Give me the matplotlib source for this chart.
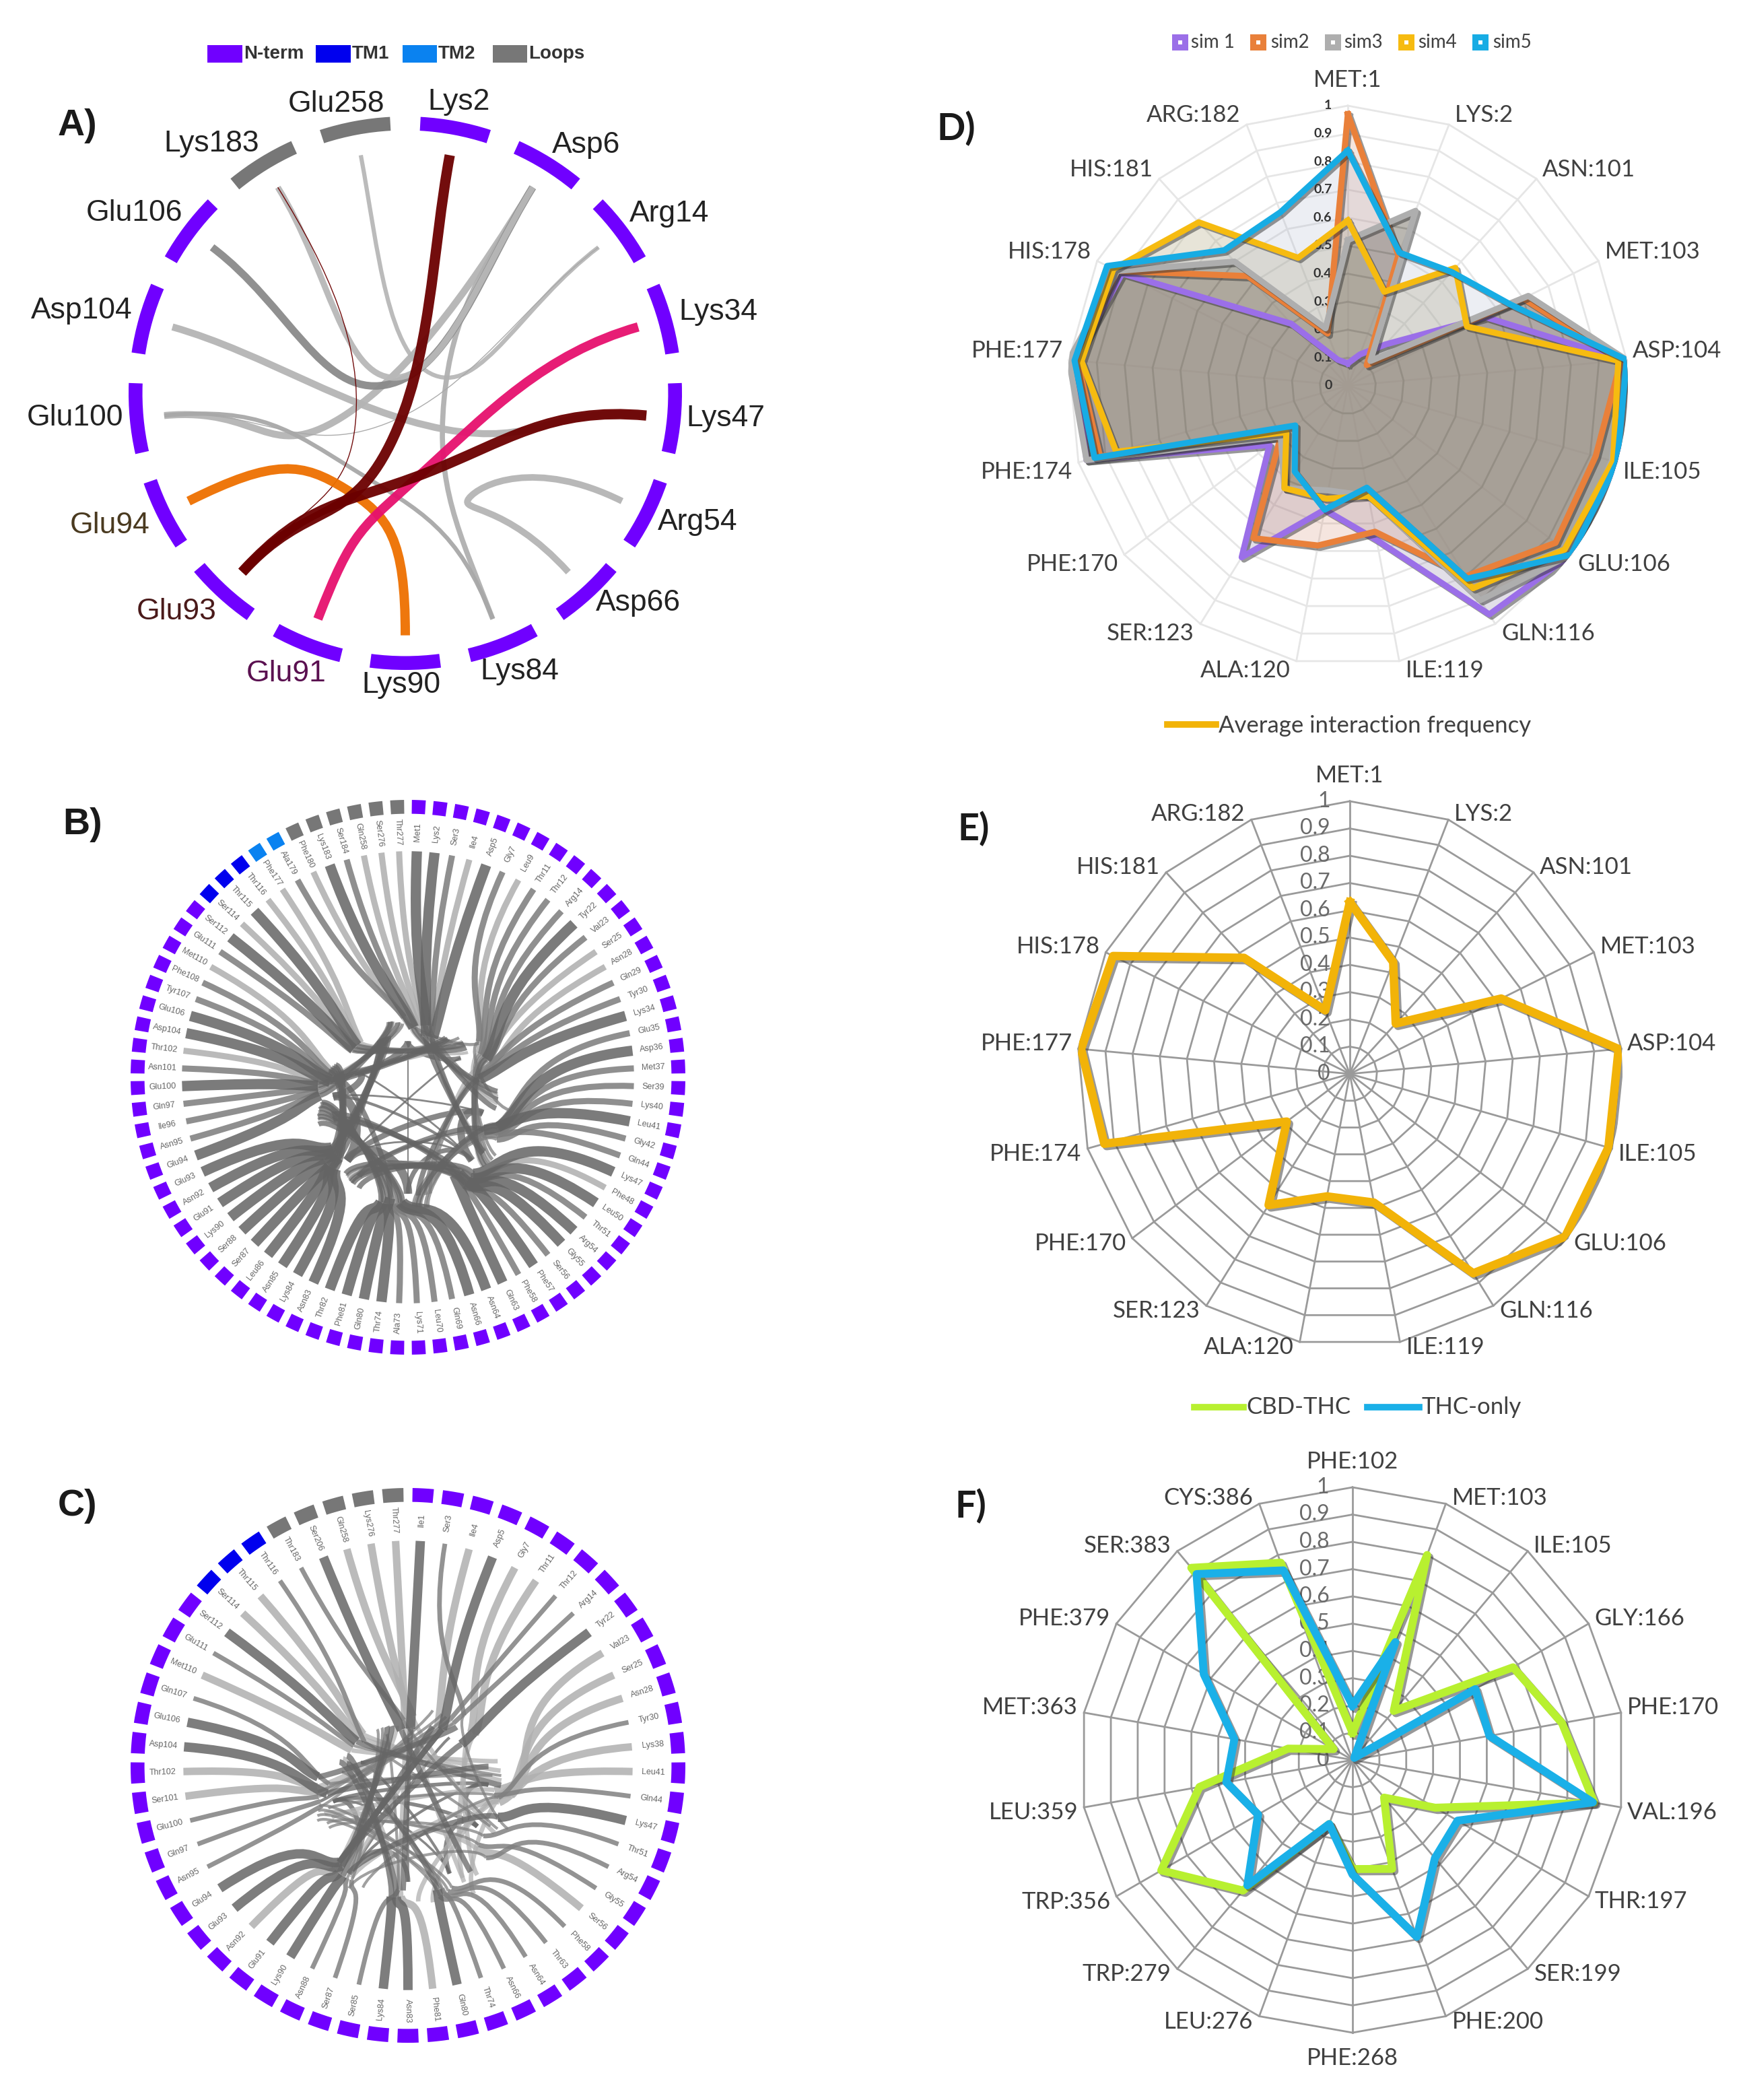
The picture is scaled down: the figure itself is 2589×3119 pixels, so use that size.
import matplotlib
matplotlib.use("Agg")
import matplotlib.pyplot as plt
import matplotlib.patheffects as pe
from matplotlib.patches import PathPatch, Rectangle, Wedge
from matplotlib.path import Path
import numpy as np

W, H = 2589, 3119
PURPLE, BLUE, SKY, LOOP = "#7000ff", "#0000ee", "#0a82f0", "#777777"

# panel A
a_names = ["Lys2", "Asp6", "Arg14", "Lys34", "Lys47", "Arg54", "Asp66", "Lys84", "Lys90",
           "Glu91", "Glu93", "Glu94", "Glu100", "Asp104", "Glu106", "Lys183", "Glu258"]
a_tiles = [PURPLE] * 15 + [LOOP] * 2
a_text = {"Glu94": "#4a3a20", "Glu93": "#4a1a1a", "Glu91": "#5a1050"}
a_label_x = [682, 871, 994, 1067, 1078, 1036, 948, 772, 596, 425, 262, 163, 111, 121, 199, 314, 499]
a_label_y = [151, 216, 318, 464, 622, 776, 896, 998, 1018, 1000, 909, 781, 620, 462, 317, 214, 155]
a_from = [16, 1, 1, 14, 13, 15, 12, 12, 5, 15, 11, 3, 0, 4]
a_to = [2, 12, 7, 1, 4, 1, 7, 2, 6, 10, 8, 9, 10, 10]
a_via_x = [.105, -.233, .14, -.07, .14, -.04, -.18, -.07, .23, -.18, -.215, .07, -.055, .07]
a_via_y = [.065, -.089, -.024, .03, -.13, .056, -.28, -.11, -.38, -.105, -.347, -.28, -.185, -.29]
a_lw = [4.5, 7.5, 5.5, 8, 7.5, 6.5, 4.5, 1, 7, 1, 10, 10, 11, 11]
a_col = ["#b8b8b8", "#b4b4b4", "#b0b0b0", "#8a8a8a", "#b4b4b4", "#b8b8b8", "#a8a8a8", "#a8a8a8",
         "#b4b4b4", "#6b0000", "#ee7000", "#e6106e", "#6b0000", "#6b0000"]

# panel B
b_names = ["Met1", "Lys2", "Ser3", "Ile4", "Asp5", "Gly7", "Leu9", "Thr11", "Thr12", "Arg14",
           "Tyr22", "Val23", "Ser25", "Asn28", "Gln29", "Tyr30", "Lys34", "Glu35", "Asp36", "Met37",
           "Ser39", "Lys40", "Leu41", "Gly42", "Gln44", "Lys47", "Phe48", "Leu50", "Thr51", "Arg54",
           "Gly55", "Ser56", "Phe57", "Phe58", "Gln63", "Asn64", "Asn66", "Gln69", "Leu70", "Lys71",
           "Ala73", "Thr74", "Gln80", "Phe81", "Thr82", "Asn83", "Lys84", "Asn85", "Leu86", "Ser87",
           "Ser88", "Lys90", "Glu91", "Asn92", "Glu93", "Glu94", "Asn95", "Ile96", "Gln97", "Glu100",
           "Asn101", "Thr102", "Asp104", "Glu106", "Tyr107", "Phe108", "Met110", "Glu111", "Ser112",
           "Ser114", "Thr115", "Thr116", "Phe177", "Ala179", "Phe180", "Lys183", "Ser184", "Gln258",
           "Ser276", "Thr277"]
b_tiles = [PURPLE] * 69 + [BLUE] * 3 + [SKY] * 2 + [LOOP] * 6
b_partner = [24, 27, 20, 26, 28, 23, 30, 27, 32, 29, 33, 31, 36, 34, 37, 35, 40, 38, 42, 39,
             44, 41, 47, 43, 48, 46, 52, 49, 51, 50, 54, 53, 56, 55, 58, 57, 60, 59, 62, 61,
             64, 63, 67, 65, 66, 69, 68, 71, 70, 73, 72, 75, 74, 77, 76, 79, 78, 0, 79, 2,
             4, 3, 6, 5, 8, 7, 10, 9, 12, 11, 14, 13, 16, 15, 18, 17, 20, 19, 22, 21]
b_weight = [3, 3, 2, 1, 3, 2, 1, 2, 2, 2, 3, 2, 1, 1, 2, 2, 3, 2, 3, 2,
            2, 2, 3, 2, 2, 3, 1, 3, 2, 3, 3, 2, 3, 2, 3, 3, 3, 2, 2, 2,
            2, 3, 3, 3, 3, 3, 3, 3, 3, 3, 3, 3, 3, 3, 3, 3, 2, 2, 2, 3,
            2, 1, 3, 3, 2, 2, 1, 2, 3, 1, 3, 1, 1, 2, 1, 3, 2, 1, 1, 1]
b_hub_x = [0, .19, .27, .23, 0, -.22, -.27, -.19]
b_hub_y = [.13, .07, -.13, -.30, -.42, -.30, -.07, .02]
b_band_from = [5, 6, 7, 1, 0, 2, 5, 5, 4, 2, 0, 0, 3, 6]
b_band_to = [2, 3, 3, 5, 4, 6, 3, 6, 5, 3, 7, 1, 4, 7]
b_band_lw = [6, 3, 2, 2, 1.5, 2, 2, 9, 9, 8, 7, 5, 5, 7]

# panel C
c_names = ["Ile1", "Ser3", "Ile4", "Asp5", "Gly7", "Thr11", "Thr12", "Arg14", "Tyr22", "Val23",
           "Ser25", "Asn28", "Tyr30", "Lys38", "Leu41", "Gln44", "Lys47", "Thr51", "Arg54", "Gly55",
           "Ser56", "Phe58", "Thr63", "Asn64", "Asn66", "Thr74", "Gln80", "Phe81", "Asn83", "Lys84",
           "Ser85", "Ser87", "Asn88", "Lys90", "Glu91", "Asn92", "Glu93", "Glu94", "Asn95", "Gln97",
           "Glu100", "Ser101", "Thr102", "Asp104", "Glu106", "Gln107", "Met110", "Glu111", "Ser112",
           "Ser114", "Thr115", "Thr116", "Thr183", "Ser206", "Gln258", "Lys276", "Thr277"]
c_tiles = [PURPLE] * 49 + [BLUE] * 3 + [LOOP] * 5
c_partner = [29, 19, 34, 37, 22, 25, 39, 41, 37, 25, 27, 30, 33, 36, 38, 40, 37, 38, 36, 39,
             41, 43, 45, 42, 44, 46, 48, 50, 49, 51, 52, 53, 54, 55, 56, 0, 1, 3, 2, 5,
             4, 7, 6, 9, 8, 11, 10, 13, 15, 12, 14, 17, 19, 21, 20, 23, 30]
c_weight = [3, 2, 1, 3, 1, 1, 2, 2, 3, 1, 1, 1, 2, 1, 1, 2, 3, 2, 2, 2,
            1, 2, 2, 2, 2, 2, 3, 1, 3, 3, 2, 2, 2, 3, 3, 1, 3, 3, 2, 2,
            2, 1, 1, 3, 3, 2, 1, 2, 3, 1, 1, 2, 2, 3, 1, 1, 1]
c_hub_x = [0, .15, .29, .25, .15, 0, -.2, -.27, -.17]
c_hub_y = [.1, .1, -.07, -.22, -.39, -.42, -.38, -.13, .01]
c_band_from = [7, 6, 8, 5, 1, 2, 7, 6, 3, 0, 2, 4]
c_band_to = [3, 2, 4, 0, 6, 7, 6, 5, 4, 8, 3, 7]
c_band_lw = [4, 3, 3, 2.5, 3, 4, 5, 5, 5, 4, 5, 2.5]

# panel D / E
res_d = ["MET:1", "LYS:2", "ASN:101", "MET:103", "ASP:104", "ILE:105", "GLU:106", "GLN:116", "ILE:119",
         "ALA:120", "SER:123", "PHE:170", "PHE:174", "PHE:177", "HIS:178", "HIS:181", "ARG:182"]
sim1 = [.08, .12, .20, .55, .99, 1.0, 1.0, .96, .56, .45, .72, .35, .97, .98, .90, .30, .10]
sim2 = [.97, .50, .10, .70, .98, .92, .93, .80, .53, .58, .64, .30, .92, .97, .92, .53, .20]
sim3 = [.52, .67, .12, .72, 1.0, .98, 1.0, .90, .40, .38, .43, .30, .97, 1.0, .92, .60, .22]
sim4 = [.59, .36, .57, .475, .97, .985, .97, .85, .40, .41, .43, .275, .86, .955, .935, .79, .49]
sim5 = [.84, .51, .55, .65, 1.0, 1.0, 1.0, .81, .37, .45, .36, .235, .94, .98, .96, .655, .665]
sim_names = ["sim 1", "sim2", "sim3", "sim4", "sim5"]
sim_cols = ["#9b6fe8", "#e9803a", "#aeaeae", "#f6bb10", "#17ace4"]
sim_fill = ["#7d6f99", "#d08060", "#706a5c", "#b0a880", "#9aa4c0"]
sim_alpha = [.22, .2, .48, .3, .18]
avg_freq = [.63, .44, .25, .62, .99, .986, .99, .86, .48, .457, .566, .29, .936, .99, .97, .576, .25]

# panel F
res_f = ["PHE:102", "MET:103", "ILE:105", "GLY:166", "PHE:170", "VAL:196", "THR:197", "SER:199", "PHE:200",
         "PHE:268", "LEU:276", "TRP:279", "TRP:356", "LEU:359", "MET:363", "PHE:379", "SER:383", "CYS:386"]
cbd_thc = [.10, .80, .235, .68, .78, .90, .35, .18, .425, .40, .25, .625, .81, .57, .24, .08, .92, .77]
thc_only = [.20, .46, .01, .52, .51, .895, .445, .47, .69, .42, .25, .60, .40, .47, .44, .63, .89, .74]

levels = [.1, .2, .3, .4, .5, .6, .7, .8, .9, 1.0]
level_labels = ["0.1", "0.2", "0.3", "0.4", "0.5", "0.6", "0.7", "0.8", "0.9", "1"]

ARIAL = ["Liberation Sans", "DejaVu Sans"]
CAL = ["Lato", "DejaVu Sans"]

fig = plt.figure(figsize=(W / 100, H / 100), dpi=100)
bg = fig.add_axes([0, 0, 1, 1])
bg.set_xlim(0, W)
bg.set_ylim(H, 0)
bg.axis("off")


def box(cx, cy, half):
    return [(cx - half) / W, 1 - (cy + half) / H, 2 * half / W, 2 * half / H]


def stroke(ax, verts, lw, color, alpha=1.0):
    codes = [Path.MOVETO] + [Path.CURVE4] * (len(verts) - 1)
    ax.add_patch(PathPatch(Path(verts, codes), fc="none", ec=color, lw=lw, alpha=alpha, capstyle="butt"))


def tile_xy(i, n, r):
    a = np.radians((i + 0.5) * 360 / n)
    return np.array([r * np.sin(a), r * np.cos(a)])


def ring(ax, n, colors, r_in, span):
    step = 360 / n
    for i, c in enumerate(colors):
        mid = 90 - (i + 0.5) * step
        ax.add_patch(Wedge((0, 0), 1, mid - span * step / 2, mid + span * step / 2,
                           width=1 - r_in, fc=c, ec="none"))


def chord_axes(cx, cy, r):
    ax = fig.add_axes(box(cx, cy, r * 1.02))
    ax.set_xlim(-1.02, 1.02)
    ax.set_ylim(-1.02, 1.02)
    ax.axis("off")
    return ax


def panel_a():
    ax = chord_axes(602, 584, 411)
    n = len(a_names)
    ring(ax, n, a_tiles, 0.95, 0.7)
    for s, e, vx, vy, lw, c in zip(a_from, a_to, a_via_x, a_via_y, a_lw, a_col):
        p, q, v = tile_xy(s, n, 0.875), tile_xy(e, n, 0.875), np.array([vx, vy])
        d = (p - q) * 0.2
        stroke(ax, [p, p * 0.6, v + d, v, v - d, q * 0.6, q], lw, c, alpha=0.95)
    for name, x, y in zip(a_names, a_label_x, a_label_y):
        bg.text(x, y, name, ha="center", va="center", fontsize=32, family=ARIAL,
                color=a_text.get(name, "#222222"))


def panel_tiles(cx, cy, r, names, colors, partner, weight, span, end_r, hubs, bands, style, spread, mid, fan):
    ax = chord_axes(cx, cy, r)
    n = len(names)
    ring(ax, n, colors, 0.95, span)
    hub = np.column_stack(hubs)
    pts = [tile_xy(i, n, end_r) for i in range(n)]
    near = [int(np.argmin(((hub - p) ** 2).sum(axis=1))) for p in pts]
    for s, e, lw in zip(*bands):
        a, b = hub[s], hub[e]
        stroke(ax, [a, a * 0.7, b * 0.7, b], lw, "#6a6a6a", alpha=0.8)

    def stop_at(i, j):
        # ribbons land in a patch round the hub, keeping the order of their tiles
        h1, h2 = hub[near[i]], hub[near[j]]
        return h1 + (h2 - h1) * spread + pts[i] * fan

    for i in sorted(range(n), key=lambda i: weight[i]):
        lw, c = style[weight[i]]
        j = partner[i]
        stop, stop2 = stop_at(i, j), stop_at(j, i)
        p = pts[i]
        stroke(ax, [p, p * 0.5, stop + (p - stop) * 0.2, stop], lw, c, alpha=0.85)
        stroke(ax, [stop, stop * 0.8, stop2 * 0.8, stop2], lw * mid, c, alpha=0.75)
    for i, name in enumerate(names):
        x, y = tile_xy(i, n, 0.885)
        rot = 90 - (i + 0.5) * 360 / n
        if rot < -90:
            rot += 180
        ax.text(x, y, name, rotation=rot, rotation_mode="anchor", ha="center", va="center",
                fontsize=9, family=ARIAL, color="#666666")


def radar_axes(cx, cy, r, cats, grid_col, grid_lw, tick_size, tick_col, tick_off, bold=False, top=False):
    ax = fig.add_axes(box(cx, cy, r), projection="polar")
    ax.set_theta_zero_location("N")
    ax.set_theta_direction(-1)
    ax.set_ylim(0, 1)
    ax.axis("off")
    th = np.linspace(0, 2 * np.pi, len(cats), endpoint=False)
    closed = np.append(th, 0)
    for v in levels:
        ax.plot(closed, [v] * len(closed), color=grid_col, lw=grid_lw, zorder=1, clip_on=False)
    for t in th:
        ax.plot([t, t], [0, 1], color=grid_col, lw=grid_lw, zorder=1, clip_on=False)
    for v, lab in zip([0] + levels, ["0"] + level_labels):
        ax.annotate(lab, (0, v), xytext=(-tick_off, 0), textcoords="offset points", ha="right",
                    va="center", fontsize=tick_size, color=tick_col, family=CAL,
                    fontweight="bold" if bold else "normal", zorder=3.5)
    for t, name in zip(th, cats):
        s, c = np.sin(t), np.cos(t)
        if abs(s) < 0.02:
            off, ha = (0, 38 * np.sign(c)), "center"
        else:
            off, ha = (9 * np.sign(s), (14 if top else 8) * np.sign(c)), ("left" if s > 0 else "right")
        ax.annotate(name, (t, 1), xytext=off, textcoords="offset pixels", ha=ha, va="center",
                    fontsize=25, color="#404040", family=CAL, zorder=6, annotation_clip=False)
    return ax, closed


def series(ax, closed, vals, color, lw, z):
    ax.plot(closed, vals + vals[:1], color=color, lw=lw, zorder=z, solid_joinstyle="round",
            path_effects=[pe.SimpleLineShadow(offset=(2.5, -2.5), shadow_color="#333333", alpha=0.5),
                          pe.Normal()])


panel_a()
panel_tiles(606, 1600, 412, b_names, b_tiles, b_partner, b_weight, 0.64, 0.815,
            (b_hub_x, b_hub_y), (b_band_from, b_band_to, b_band_lw),
            {1: (6.5, "#aeaeae"), 2: (6.5, "#7c7c7c"), 3: (11, "#646464")}, 0.22, 0.5, 0.14)
panel_tiles(606, 2622, 412, c_names, c_tiles, c_partner, c_weight, 0.7, 0.81,
            (c_hub_x, c_hub_y), (c_band_from, c_band_to, c_band_lw),
            {1: (8, "#b0b0b0"), 2: (5, "#808080"), 3: (10, "#666666")}, 0.25, 0.6, 0.2)

# panel D
ax_d, cl = radar_axes(2002, 573, 416, res_d, "#e6e6e6", 2, 14, "#333333", 17, bold=True, top=True)
all_sims = [sim1, sim2, sim3, sim4, sim5]
for vals, tint, alpha in zip(all_sims, sim_fill, sim_alpha):
    poly = ax_d.fill(cl, vals + vals[:1], color=tint, alpha=alpha, zorder=3, lw=0)[0]
    if vals is sim3:
        clip = poly
for v in levels:
    ln = ax_d.plot(cl, [v] * len(cl), color="#5a5a50", lw=2, alpha=0.2, zorder=3.2)[0]
    ln.set_clip_path(clip)
for z, (vals, col) in enumerate(zip(all_sims, sim_cols)):
    series(ax_d, cl, vals, col, 6.5, 4 + z * 0.1)

# panel E
ax_e, cl = radar_axes(2005, 1595, 405, res_d, "#9a9a9a", 2, 23, "#6a6a6a", 21)
series(ax_e, cl, avg_freq, "#f2b308", 9, 4)

# panel F
ax_f, cl = radar_axes(2009, 2614, 405, res_f, "#9a9a9a", 2, 23, "#6a6a6a", 25)
series(ax_f, cl, cbd_thc, "#b8f030", 8.5, 4)
series(ax_f, cl, thc_only, "#1ab0e8", 8.5, 5)

# legends and panel letters
for x0, x1, c, lab in zip([308, 469, 598, 732], [360, 521, 649, 783], [PURPLE, BLUE, SKY, LOOP],
                          ["N-term", "TM1", "TM2", "Loops"]):
    bg.add_patch(Rectangle((x0, 67), x1 - x0, 26, fc=c, ec="none"))
    bg.text(x1 + 2, 80, lab, ha="left", va="center", fontsize=20, fontweight="bold", family=ARIAL, color="#333333")

for x, tx, c, lab in zip([1753, 1869, 1980, 2089, 2199], [1769, 1887, 1996, 2106, 2217], sim_cols, sim_names):
    bg.add_patch(Rectangle((x - 12, 51), 24, 24, fc=c, ec="none"))
    bg.add_patch(Rectangle((x - 3, 60), 6, 6, fc="white", ec="none"))
    bg.text(tx, 63, lab, ha="left", va="center", fontsize=20, family=CAL, color="#404040")

bg.plot([1734, 1806], [1076, 1076], color="#f2b308", lw=7)
bg.text(1810, 1078, "Average interaction frequency", ha="left", va="center", fontsize=25, family=CAL, color="#404040")
bg.plot([1774, 1847], [2090, 2090], color="#b8f030", lw=7)
bg.text(1851, 2090, "CBD-THC", ha="left", va="center", fontsize=25, family=CAL, color="#404040")
bg.plot([2031, 2108], [2090, 2090], color="#1ab0e8", lw=7)
bg.text(2112, 2090, "THC-only", ha="left", va="center", fontsize=25, family=CAL, color="#404040")

for lab, x, y in zip(["A)", "B)", "C)", "D)", "E)", "F)"], [115, 123, 115, 1420, 1446, 1442],
                     [187, 1225, 2237, 191, 1231, 2237]):
    fam = ARIAL if lab in ("A)", "B)", "C)") else CAL
    bg.text(x, y, lab, ha="center", va="center", fontsize=40, fontweight="bold", family=fam, color="#1a1a1a")

fig.savefig("out.png", dpi=100)
